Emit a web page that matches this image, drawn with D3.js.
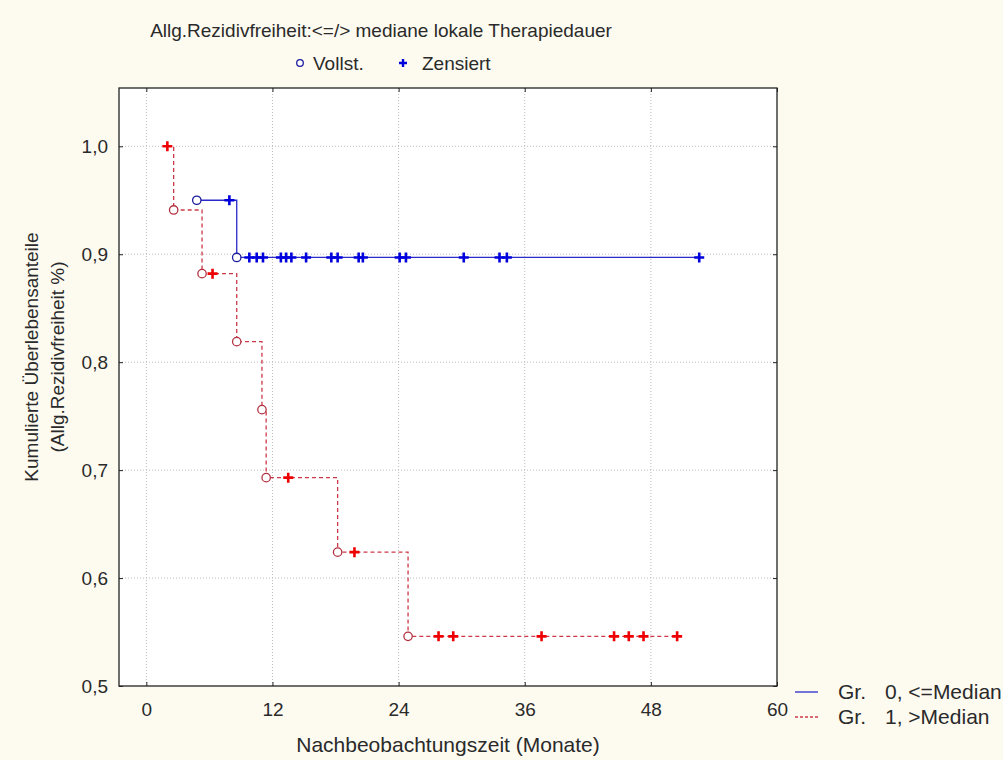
<!DOCTYPE html>
<html>
<head>
<meta charset="utf-8">
<script src="https://cdn.jsdelivr.net/npm/d3@7"></script>
<style>
  body { margin: 0; background: #fdfbf0; }
  text { font-family: "Liberation Sans", Arial, sans-serif; fill: #2a2a2a; }
</style>
</head>
<body>
<svg id="chart" width="1003" height="760"></svg>
<script>
// Titles and labels
var title = "Allg.Rezidivfreiheit:<=/> mediane lokale Therapiedauer";
var xTitle = "Nachbeobachtungszeit (Monate)";
var yTitle = ["Kumulierte Überlebensanteile", "(Allg.Rezidivfreiheit %)"];
var groupPrefix = "Gr.";
var groupNames = ["0, <=Median", "1, >Median"];
var xTicks = [0, 12, 24, 36, 48, 60];
var yTicks = [0.5, 0.6, 0.7, 0.8, 0.9, 1.0];

// Group 0 (<= median): complete events and censored times
var g0EventT = [4.8, 8.6];
var g0EventS = [0.95, 0.897];
var g0CensT = [7.9, 9.8, 10.5, 11.1, 12.8, 13.3, 13.8, 15.2, 17.6, 18.2, 20.2, 20.6, 24.1, 24.7, 30.2, 33.6, 34.3, 52.6];

// Group 1 (> median)
var g1EventT = [2.6, 5.3, 8.6, 11.0, 11.4, 18.2, 24.9];
var g1EventS = [0.941, 0.882, 0.819, 0.756, 0.693, 0.624, 0.546];
var g1CensT = [2.0, 6.3, 13.5, 19.8, 27.8, 29.2, 37.6, 44.5, 45.9, 47.3, 50.5];

var svg = d3.select("#chart");
var pLeft = 119, pRight = 777, pTop = 88, pBottom = 686;
var fs = "19px", fsBig = "21px";

var x = d3.scaleLinear().domain([-2.6, 60]).range([pLeft, pRight]);
var y = d3.scaleLinear().domain([0.5, 1.054]).range([pBottom, pTop]);

// plot area
svg.append("rect")
    .attr("x", pLeft).attr("y", pTop)
    .attr("width", pRight - pLeft).attr("height", pBottom - pTop)
    .attr("fill", "#fff");

// grid
svg.append("g").selectAll("line")
    .data(xTicks.slice(0, -1))
    .enter().append("line")
    .attr("x1", function (d) { return x(d); }).attr("x2", function (d) { return x(d); })
    .attr("y1", pTop).attr("y2", pBottom)
    .attr("stroke", "#bbb").attr("stroke-dasharray", "1,2");
svg.append("g").selectAll("line")
    .data(yTicks.slice(1))
    .enter().append("line")
    .attr("x1", pLeft).attr("x2", pRight)
    .attr("y1", function (d) { return y(d); }).attr("y2", function (d) { return y(d); })
    .attr("stroke", "#bbb").attr("stroke-dasharray", "1,2");

// axes (ticks pointing inward)
var fmt = function (d) { return d3.format(".1f")(d).replace(".", ","); };
svg.append("g").attr("transform", "translate(0," + pBottom + ")")
    .call(d3.axisBottom(x).tickValues(xTicks).tickSizeInner(-4).tickSizeOuter(0).tickPadding(17));
svg.append("g").attr("transform", "translate(" + pLeft + ",0)")
    .call(d3.axisLeft(y).tickValues(yTicks).tickFormat(fmt).tickSizeInner(-4).tickSizeOuter(0).tickPadding(11));
svg.append("g").attr("transform", "translate(" + pRight + ",0)")
    .call(d3.axisRight(y).tickValues(yTicks).tickFormat("").tickSizeInner(-4).tickSizeOuter(0));
svg.append("g").attr("transform", "translate(0," + pTop + ")")
    .call(d3.axisTop(x).tickValues(xTicks).tickFormat("").tickSizeInner(-4).tickSizeOuter(0));
svg.selectAll(".domain").remove();
svg.selectAll(".tick line").attr("stroke", "#222");
svg.selectAll(".tick text").style("font-size", fs).attr("fill", "#333")
    .style("font-family", "'Liberation Sans', Arial, sans-serif");

svg.append("rect")
    .attr("x", pLeft).attr("y", pTop)
    .attr("width", pRight - pLeft).attr("height", pBottom - pTop)
    .attr("fill", "none").attr("stroke", "#222").attr("stroke-width", 1.3);

// step curves
function survAt(t, et, es) {
    var s = 1;
    for (var i = 0; i < et.length; i++) if (et[i] <= t) s = es[i];
    return s;
}
function stepPoints(et, es, ct) {
    var all = et.concat(ct);
    var t0 = d3.min(all), t1 = d3.max(all);
    var pts = [[t0, survAt(t0, et, es)]];
    et.forEach(function (t, i) { if (t > t0) pts.push([t, es[i]]); });
    pts.push([t1, survAt(t1, et, es)]);
    return pts;
}
var line = d3.line()
    .x(function (d) { return x(d[0]); })
    .y(function (d) { return y(d[1]); })
    .curve(d3.curveStepAfter);

var groups = [
    { et: g0EventT, es: g0EventS, ct: g0CensT, line: "#2a2ac8", circ: "#1c1c9c", cross: "#0000dd", dash: null },
    { et: g1EventT, es: g1EventS, ct: g1CensT, line: "#cc3a48", circ: "#b23040", cross: "#ee0000", dash: "4,3" }
];

groups.slice().reverse().forEach(function (g) {
    svg.append("path")
        .attr("d", line(stepPoints(g.et, g.es, g.ct)))
        .attr("fill", "none")
        .attr("stroke", g.line)
        .attr("stroke-width", 1.3)
        .attr("stroke-dasharray", g.dash);

    svg.append("g").selectAll("path")
        .data(g.ct)
        .enter().append("path")
        .attr("transform", function (t) { return "translate(" + x(t) + "," + y(survAt(t, g.et, g.es)) + ")"; })
        .attr("d", "M-5,0H5M0,-5V5")
        .attr("stroke", g.cross)
        .attr("stroke-width", 2.6);

    svg.append("g").selectAll("circle")
        .data(g.et)
        .enter().append("circle")
        .attr("cx", function (t) { return x(t); })
        .attr("cy", function (t, i) { return y(g.es[i]); })
        .attr("r", 4.2)
        .attr("fill", "#fff")
        .attr("stroke", g.circ)
        .attr("stroke-width", 1.3);
});

// title and top legend
svg.append("text").attr("x", 381).attr("y", 37).attr("text-anchor", "middle")
    .style("font-size", fs).text(title);
svg.append("circle").attr("cx", 300).attr("cy", 63).attr("r", 3.3)
    .attr("fill", "#fff").attr("stroke", "#1c1c9c").attr("stroke-width", 1.3);
svg.append("text").attr("x", 313).attr("y", 70).style("font-size", fs).text("Vollst.");
svg.append("path").attr("transform", "translate(403,63)").attr("d", "M-4,0H4M0,-4V4")
    .attr("stroke", "#0000dd").attr("stroke-width", 2.4);
svg.append("text").attr("x", 422).attr("y", 70).style("font-size", fs).text("Zensiert");

// axis titles
svg.append("text").attr("x", (pLeft + pRight) / 2).attr("y", 752).attr("text-anchor", "middle")
    .style("font-size", fsBig).text(xTitle);
yTitle.forEach(function (t, i) {
    svg.append("text")
        .attr("transform", "translate(" + (38 + i * 26) + ",357) rotate(-90)")
        .attr("text-anchor", "middle")
        .style("font-size", fs).text(t);
});

// bottom legend
groups.forEach(function (g, i) {
    var yy = 692 + i * 25;
    svg.append("line").attr("x1", 795).attr("x2", 818).attr("y1", yy).attr("y2", yy)
        .attr("stroke", g.line).attr("stroke-width", 1.3).attr("stroke-dasharray", g.dash ? "3,2" : null);
    svg.append("text").attr("x", 838).attr("y", yy + 7).style("font-size", fsBig).text(groupPrefix);
    svg.append("text").attr("x", 885).attr("y", yy + 7).style("font-size", fsBig).text(groupNames[i]);
});
</script>
</body>
</html>
